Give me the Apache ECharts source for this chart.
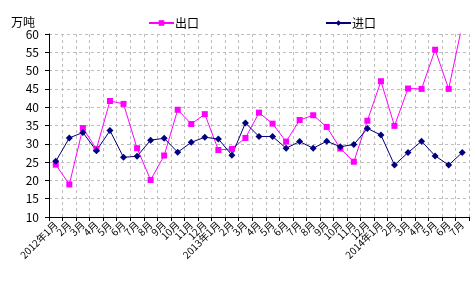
<!DOCTYPE html>
<html><head><meta charset="utf-8">
<script src="https://cdn.jsdelivr.net/npm/echarts@6/dist/echarts.min.js"></script>
<style>html,body{margin:0;padding:0;background:#fff}#c{width:474px;height:287px}</style>
</head><body><div id="c"></div>
<script>
const categories = ["2012年1月","2月","3月","4月","5月","6月","7月","8月","9月","10月","11月","12月",
"2013年1月","2月","3月","4月","5月","6月","7月","8月","9月","10月","11月","12月",
"2014年1月","2月","3月","4月","5月","6月","7月"];
const exportVals = [24.3,18.9,34.3,28.6,41.7,40.9,28.8,20.1,26.8,39.3,35.4,38.1,28.3,28.6,31.6,38.5,35.5,30.6,36.5,37.8,34.6,28.7,25.1,36.3,47.1,34.9,45.1,45.0,55.7,45.0,62.5];
const importVals = [25.2,31.6,33.1,28.1,33.6,26.3,26.6,31.0,31.5,27.7,30.4,31.8,31.3,26.9,35.7,32.0,32.0,28.8,30.6,28.8,30.7,29.2,29.8,34.2,32.4,24.2,27.6,30.7,26.7,24.2,27.6];
const yTicks = [10,15,20,25,30,35,40,45,50,55,60];
const font = "'Noto Sans CJK SC', sans-serif";
const chart = echarts.init(document.getElementById('c'));
chart.setOption({
  animation:false,
  backgroundColor:'#fff',
  textStyle:{fontFamily:font},
  title:{text:'万吨',left:6,top:11,textStyle:{fontSize:12,fontWeight:'normal',color:'#000',fontFamily:font}},
  legend:{top:12,left:143,itemGap:126,itemWidth:25,itemHeight:7,
    textStyle:{fontSize:12,color:'#000',fontFamily:font,padding:[0,0,0,-4]},
    data:['出口','进口']},
  grid:{left:49,right:5,top:34,bottom:70},
  xAxis:{type:'category',data:categories,boundaryGap:true,
    axisLine:{lineStyle:{color:'#000',width:1}},
    axisTick:{show:true,length:4,lineStyle:{color:'#000'},interval:0},
    axisLabel:{interval:0,rotate:45,fontSize:10,color:'#000',margin:6,fontFamily:font},
    splitLine:{show:true,interval:0,lineStyle:{color:'#bdbdbd',type:[3,3]}}},
  yAxis:{type:'value',min:10,max:60,interval:5,
    axisLine:{show:true,lineStyle:{color:'#000'}},
    axisTick:{show:true,length:4,lineStyle:{color:'#000'}},
    axisLabel:{fontSize:12,color:'#000',margin:10,fontFamily:font},
    splitLine:{show:true,lineStyle:{color:'#bdbdbd',type:[3,3]}}},
  series:[
    {name:'出口',type:'line',data:exportVals,symbol:'rect',symbolSize:6,clip:true,
     itemStyle:{color:'#ff00ff'},lineStyle:{color:'#ff00ff',width:1}},
    {name:'进口',type:'line',data:importVals,symbol:'diamond',symbolSize:7,clip:true,
     itemStyle:{color:'#000080'},lineStyle:{color:'#000080',width:1}}
  ]
});
</script></body></html>
